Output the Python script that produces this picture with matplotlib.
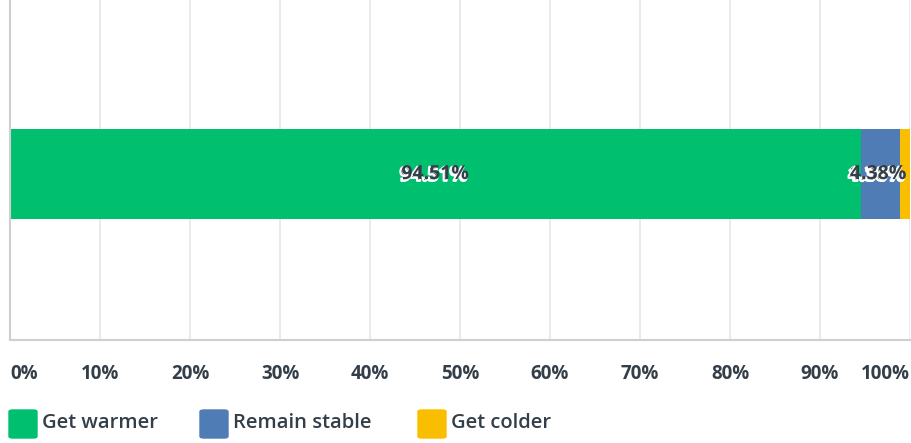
import matplotlib
matplotlib.use("Agg")
import matplotlib.pyplot as plt
import matplotlib.patheffects as pe
from matplotlib.patches import FancyBboxPatch

categories = ["Get warmer", "Remain stable", "Get colder"]
values = [94.51, 4.38, 1.11]
colors = ["#00BF6F", "#507CB6", "#F9BE00"]
tick_vals = list(range(0, 101, 10))
tick_labels = [f"{t}%" for t in tick_vals]

TXT = "#333E48"
FONT = "Open Sans"
WEIGHT = "bold"

W, H = 911, 443
fig = plt.figure(figsize=(W / 100, H / 100), dpi=100)
ax = fig.add_axes([10 / W, (H - 340) / H, 900 / W, 340 / H])
ax.set_xlim(0, 100)
ax.set_ylim(-0.5, 0.5)
yc = -0.012

for t in tick_vals[1:]:
    ax.axvline(t, color="#E6E6E6", lw=1.2, zorder=0)

left = 0
for v, c in zip(values, colors):
    ax.barh(yc, v, left=left, height=0.265, color=c, zorder=2)
    left += v

# data labels
shadow = [pe.Stroke(linewidth=1.6, foreground="white", offset=(-1.2, -1.2)), pe.Normal()]
lefts = [sum(values[:i]) for i in range(len(values))]
zs = [5, 7, 6]
for i, v in enumerate(values):
    center = lefts[i] + v / 2
    if i == 0:
        ax.text(center, yc, f"{v:.2f}%", ha="center", va="center", fontsize=14,
                fontweight=WEIGHT, color=TXT, family=FONT, path_effects=shadow, zorder=zs[i])
    else:
        ax.text(99.6, yc, f"{v:.2f}%", ha="right", va="center", fontsize=14,
                fontweight=WEIGHT, color=TXT, family=FONT, path_effects=shadow, zorder=zs[i])

for s in ["top", "right"]:
    ax.spines[s].set_visible(False)
for s in ["left", "bottom"]:
    ax.spines[s].set_color("#CFCFCF")
    ax.spines[s].set_linewidth(1.5)
ax.set_yticks([])
ax.set_xticks(tick_vals)
ax.set_xticklabels(tick_labels)
ax.tick_params(axis="x", length=0, pad=17)
for i, lbl in enumerate(ax.get_xticklabels()):
    lbl.set_fontsize(13.5)
    lbl.set_fontweight(WEIGHT)
    lbl.set_color(TXT)
    lbl.set_family(FONT)
    if i == 0:
        lbl.set_ha("left")
    elif i == len(tick_vals) - 1:
        lbl.set_ha("right")

# legend
leg_x = [9, 200, 418]
for x, name, c in zip(leg_x, categories, colors):
    fig.patches.append(FancyBboxPatch(((x) / W, (H - 438) / H), 28 / W, 28 / H,
                                      boxstyle="round,pad=0,rounding_size=0.004",
                                      transform=fig.transFigure, color=c))
    fig.text((x + 33) / W, (H - 423) / H, name, ha="left", va="center", fontsize=14.5,
             fontweight="semibold", color=TXT, family=FONT)

fig.savefig("out.png", dpi=100)
